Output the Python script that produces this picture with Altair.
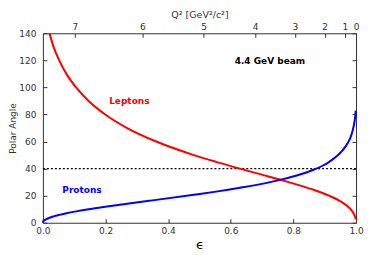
import altair as alt
import pandas as pd

# Curves: epsilon vs polar angle of lepton / proton
eps = [0.0, 0.0012, 0.005, 0.0114, 0.021, 0.034, 0.052, 0.075, 0.106, 0.146,
       0.199, 0.269, 0.362, 0.482, 0.553, 0.629, 0.708, 0.770, 0.785, 0.856,
       0.914, 0.956, 0.974, 0.983, 0.992, 0.996, 0.998, 0.999]
lepton_deg = [180, 170, 160, 150, 140, 130, 120, 110, 100, 90,
              80, 70, 60, 50, 45, 40, 35, 31, 30, 25,
              20, 15, 12, 10, 7, 5, 3.5, 2.5]
proton_deg = [0.0, 0.9, 1.8, 2.7, 3.7, 4.7, 5.8, 7.0, 8.4, 10.0,
              11.8, 14.1, 16.9, 20.7, 23.0, 25.8, 29.1, 32.4, 33.3, 38.4,
              44.9, 53.2, 59.1, 63.5, 70.8, 76.1, 80.1, 82.9]

x_ticks = [0, 0.2, 0.4, 0.6, 0.8, 1]
y_ticks = [0, 20, 40, 60, 80, 100, 120, 140]
q2_labels = ["7", "6", "5", "4", "3", "2", "1", "0"]
q2_eps = [0.102, 0.318, 0.513, 0.678, 0.805, 0.900, 0.964, 1.0]
cut_angle = [40]

note_text = ["Leptons", "Protons", "4.4 GeV beam"]
note_eps = [0.276, 0.125, 0.725]
note_deg = [90, 24.5, 119.7]
note_color = ["#ff0000", "#0000ff", "#000000"]

W, H = 314, 190
FONT = "DejaVu Sans"
GREY = "#333333"

df = pd.DataFrame({"eps": eps, "lep": lepton_deg, "pro": proton_deg})
lep_df = df[df["lep"] <= 140]
cut_df = pd.DataFrame({"x0": [0] * len(cut_angle), "x1": [1] * len(cut_angle), "y": cut_angle})
note_df = pd.DataFrame({"t": note_text, "x": note_eps, "y": note_deg, "c": note_color})

xs = alt.Scale(domain=[0, 1], nice=False, zero=False)
ys = alt.Scale(domain=[0, 140], nice=False)

common = dict(domain=False, offset=-4, tickSize=4, tickColor=GREY, tickWidth=1,
              labelFont=FONT, labelFontSize=9, labelColor=GREY, grid=False,
              titleFont=FONT, titleFontWeight="normal", labelFlush=False)

q2_expr = "[" + ",".join("'%s'" % s for s in q2_labels) + "][indexof([" + \
    ",".join(str(v) for v in q2_eps) + "], datum.value)]"

red = alt.Chart(lep_df).mark_line(color="#ff0000", strokeWidth=2, interpolate="monotone").encode(
    x=alt.X("eps:Q", scale=xs, axis=alt.Axis(orient="bottom", values=x_ticks, title="ϵ",
                                             labelPadding=4, titleFontSize=13, titleColor="#000",
                                             titlePadding=3, **common)),
    y=alt.Y("lep:Q", scale=ys, axis=alt.Axis(orient="left", values=y_ticks, title="Polar Angle",
                                             labelPadding=7, titleFontSize=9, titlePadding=1,
                                             titleColor=GREY, **common)),
)

blue = alt.Chart(df).mark_line(color="#0000ff", strokeWidth=2, interpolate="monotone").encode(
    x=alt.X("eps:Q", scale=xs, axis=alt.Axis(orient="top", values=q2_eps, labelExpr=q2_expr,
                                             title="Q² [GeV²/c²]", labelPadding=2, titleFontSize=9.5,
                                             titlePadding=3, titleColor=GREY, **common)),
    y=alt.Y("pro:Q", scale=ys, axis=alt.Axis(orient="right", values=y_ticks, labels=False,
                                             title=None, **common)),
)

cut = alt.Chart(cut_df).mark_rule(color="#000000", strokeWidth=1.2, strokeDash=[2, 2]).encode(
    x=alt.X("x0:Q", scale=xs, axis=None),
    x2="x1:Q",
    y=alt.Y("y:Q", scale=ys, axis=None),
)

notes = alt.Chart(note_df).mark_text(font=FONT, fontSize=9, fontWeight="bold").encode(
    x=alt.X("x:Q", scale=xs, axis=None),
    y=alt.Y("y:Q", scale=ys, axis=None),
    text="t:N",
    color=alt.Color("c:N", scale=None),
)

chart = alt.layer(cut, red, blue, notes).resolve_axis(
    x="independent", y="independent"
).properties(
    width=W, height=H,
    autosize=alt.AutoSizeParams(type="none"),
    padding={"left": 35, "top": 25, "right": 10, "bottom": 30},
).configure_view(stroke=GREY, strokeWidth=1)

chart.save("out.html", embed_options={"renderer": "svg", "actions": False})
